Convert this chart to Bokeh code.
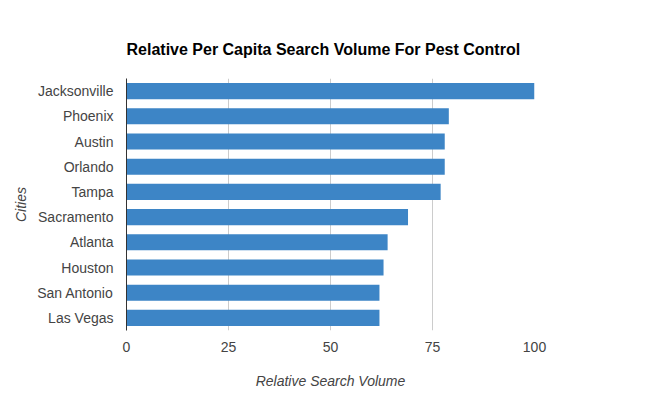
from bokeh.plotting import figure
from bokeh.models import ColumnDataSource, FixedTicker, Range1d
from bokeh.embed import file_html
from bokeh.resources import INLINE

cities = ["Jacksonville", "Phoenix", "Austin", "Orlando", "Tampa",
          "Sacramento", "Atlanta", "Houston", "San Antonio", "Las Vegas"]
volume = [100, 79, 78, 78, 77, 69, 64, 63, 62, 62]
x_ticks = [0, 25, 50, 75, 100]

FONT = "Liberation Sans"

src = ColumnDataSource(dict(city=cities, vol=volume))

p = figure(y_range=list(reversed(cities)), x_range=Range1d(0, 100),
           frame_width=408, frame_height=252,
           min_border_left=126, min_border_right=118,
           min_border_top=78, min_border_bottom=62,
           output_backend="svg", toolbar_location=None,
           title="Relative Per Capita Search Volume For Pest Control")

p.hbar(y="city", right="vol", left=0, height=0.64, source=src,
       fill_color="#3d85c6", line_color=None)

p.title.text_font = FONT
p.title.text_font_size = "16px"
p.title.text_font_style = "bold"
p.title.text_color = "#000000"
p.title.align = "left"
p.title.offset = 0
p.title.standoff = 42

p.outline_line_color = None
p.ygrid.grid_line_color = None
p.xgrid.grid_line_color = "#cccccc"
p.xaxis.ticker = FixedTicker(ticks=x_ticks)

for ax in (p.xaxis[0], p.yaxis[0]):
    ax.major_tick_line_color = None
    ax.minor_tick_line_color = None
    ax.major_label_text_font = FONT
    ax.major_label_text_font_size = "14px"
    ax.major_label_text_color = "#444444"
    ax.axis_label_text_font = FONT
    ax.axis_label_text_font_size = "14px"
    ax.axis_label_text_font_style = "italic"
    ax.axis_label_text_color = "#444444"

p.xaxis.axis_line_color = None
p.yaxis.axis_line_color = "#333333"
p.yaxis.axis_line_width = 1

p.xaxis.axis_label = "Relative Search Volume"
p.yaxis.axis_label = "Cities"
p.xaxis.major_label_standoff = 5
p.xaxis.axis_label_standoff = 18
p.yaxis.major_label_standoff = 7
p.yaxis.axis_label_standoff = 5

open("out.html", "w").write(file_html(p, INLINE))
